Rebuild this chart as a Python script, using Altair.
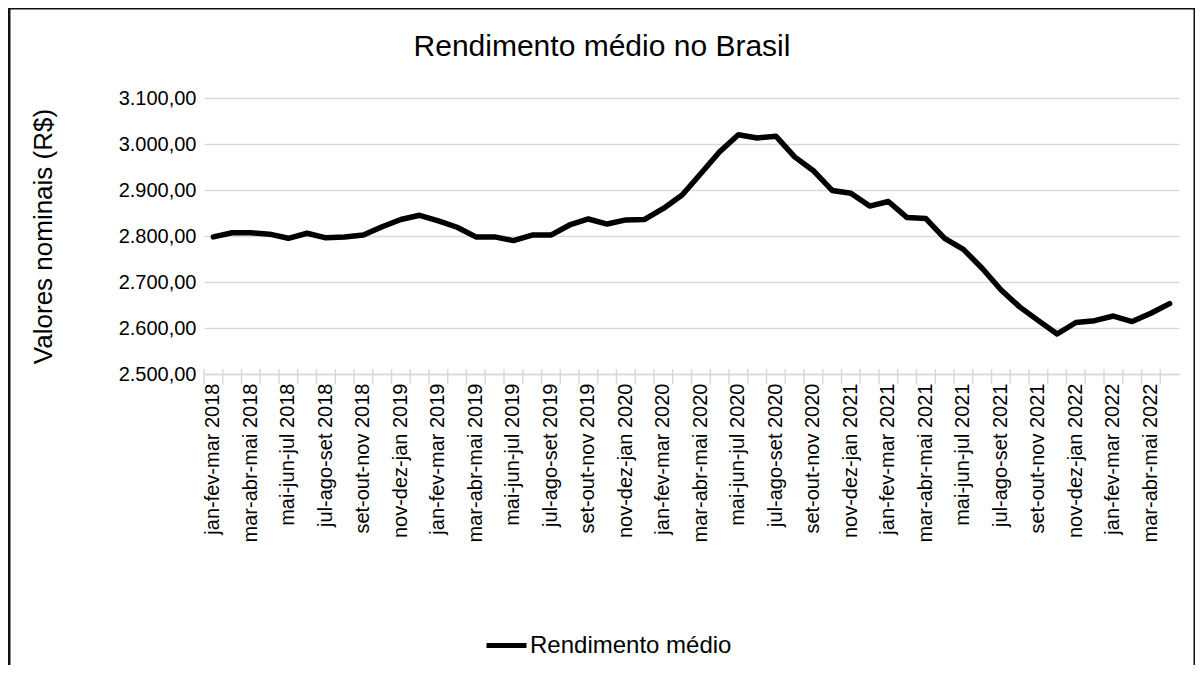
import altair as alt
import pandas as pd

periodos = [
    "jan-fev-mar 2018", "fev-mar-abr 2018", "mar-abr-mai 2018", "abr-mai-jun 2018",
    "mai-jun-jul 2018", "jun-jul-ago 2018", "jul-ago-set 2018", "ago-set-out 2018",
    "set-out-nov 2018", "out-nov-dez 2018", "nov-dez-jan 2019", "dez-jan-fev 2019",
    "jan-fev-mar 2019", "fev-mar-abr 2019", "mar-abr-mai 2019", "abr-mai-jun 2019",
    "mai-jun-jul 2019", "jun-jul-ago 2019", "jul-ago-set 2019", "ago-set-out 2019",
    "set-out-nov 2019", "out-nov-dez 2019", "nov-dez-jan 2020", "dez-jan-fev 2020",
    "jan-fev-mar 2020", "fev-mar-abr 2020", "mar-abr-mai 2020", "abr-mai-jun 2020",
    "mai-jun-jul 2020", "jun-jul-ago 2020", "jul-ago-set 2020", "ago-set-out 2020",
    "set-out-nov 2020", "out-nov-dez 2020", "nov-dez-jan 2021", "dez-jan-fev 2021",
    "jan-fev-mar 2021", "fev-mar-abr 2021", "mar-abr-mai 2021", "abr-mai-jun 2021",
    "mai-jun-jul 2021", "jun-jul-ago 2021", "jul-ago-set 2021", "ago-set-out 2021",
    "set-out-nov 2021", "out-nov-dez 2021", "nov-dez-jan 2022", "dez-jan-fev 2022",
    "jan-fev-mar 2022", "fev-mar-abr 2022", "mar-abr-mai 2022", "abr-mai-jun 2022",
]

valores = [
    2798, 2807, 2807, 2804, 2795, 2806, 2796, 2798, 2802, 2820,
    2836, 2845, 2833, 2819, 2798, 2798, 2790, 2802, 2802, 2824,
    2837, 2826, 2835, 2836, 2860, 2889, 2936, 2983, 3020, 3013,
    3017, 2972, 2942, 2899, 2893, 2865, 2875, 2840, 2838, 2795,
    2771, 2730, 2683, 2646, 2616, 2587, 2612, 2616, 2626, 2614,
    2632, 2653,
]

rotulos_x = periodos[::2]
ticks_y = [2500, 2600, 2700, 2800, 2900, 3000, 3100]
serie = "Rendimento médio"
titulo = "Rendimento médio no Brasil"
titulo_y = "Valores nominais (R$)"

FONT = "Liberation Sans"
W, H = 975, 276

df = pd.DataFrame({"periodo": periodos, "valor": valores, "serie": [serie] * len(periodos)})

xscale = alt.Scale(paddingInner=0, paddingOuter=0)
xaxis = alt.Axis(
    values=rotulos_x, title=None, labelAngle=270, labelAlign="right",
    labelBaseline="middle", labelFontSize=20, labelColor="black", labelPadding=9,
    ticks=False, domain=True, domainColor="#d9d9d9", domainWidth=1.5, grid=False,
    labelOverlap=False, labelFont=FONT, labelLimit=0,
)

line = alt.Chart(df).mark_line(strokeWidth=5.5, strokeJoin="round", strokeCap="round").encode(
    x=alt.X("periodo:N", sort=periodos, scale=xscale, axis=xaxis),
    y=alt.Y(
        "valor:Q", scale=alt.Scale(domain=[2500, 3100], nice=False, zero=False),
        axis=alt.Axis(
            values=ticks_y, title=titulo_y, titleFontSize=26, titleFontWeight="normal",
            titleColor="black", titlePadding=62, titleFont=FONT,
            labelExpr="replace(replace(replace(format(datum.value, ',.2f'), ',', '#'), '.', ','), '#', '.')",
            labelFontSize=20, labelColor="black", labelPadding=8, labelFont=FONT,
            ticks=False, domain=False, grid=True, gridColor="#d9d9d9", gridWidth=1.5,
        ),
    ),
    color=alt.Color(
        "serie:N", scale=alt.Scale(range=["#000000"]),
        legend=alt.Legend(
            orient="none", legendX=280, legendY=525, title=None, symbolType="stroke",
            symbolStrokeWidth=5, symbolSize=1600, labelFontSize=24, labelColor="black",
            labelOffset=1, labelFont=FONT, labelLimit=0,
        ),
    ),
)

ticks = alt.Chart(df).mark_rule(color="#d9d9d9", strokeWidth=1.5).encode(
    x=alt.X("periodo:N", sort=periodos, scale=xscale, bandPosition=0, axis=xaxis),
    y=alt.value(H - 5),
    y2=alt.value(H + 10),
)

frame = pd.DataFrame({"texto": [titulo]})
title_mark = alt.Chart(frame).mark_text(
    fontSize=30, font=FONT, color="black", align="center", baseline="middle"
).encode(x=alt.value(398), y=alt.value(-51), text="texto:N")

left = alt.Chart(frame).mark_rule(color="#111111", strokeWidth=3).encode(
    x=alt.value(-195), y=alt.value(-90), y2=alt.value(600))
top = alt.Chart(frame).mark_rule(color="#111111", strokeWidth=3).encode(
    x=alt.value(-195), x2=alt.value(991), y=alt.value(-90))
right = alt.Chart(frame).mark_rule(color="#111111", strokeWidth=3).encode(
    x=alt.value(991), y=alt.value(-90), y2=alt.value(600))

chart = alt.layer(ticks, line, title_mark, left, top, right).properties(
    width=W, height=H,
    autosize=alt.AutoSizeParams(type="none"),
    padding={"left": 196, "top": 90, "right": 16, "bottom": 291},
).configure(
    background="white", font=FONT,
).configure_view(stroke=None)

chart.save("out.html", embed_options={"renderer": "svg", "actions": False})
